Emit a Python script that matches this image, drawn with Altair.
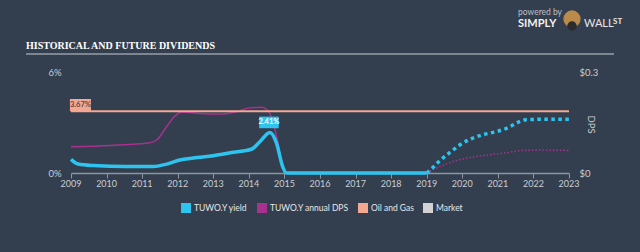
import altair as alt
import pandas as pd

# ---------------- data ----------------
hist_years = [2009.0, 2009.2, 2009.63, 2010.56, 2011.31, 2011.69, 2012.06, 2012.44, 2013.0,
              2013.56, 2014.07, 2014.31, 2014.59, 2014.78, 2014.95, 2015.06, 2016, 2017, 2018, 2019]
hist_yield = [0.81, 0.53, 0.44, 0.38, 0.38, 0.53, 0.77, 0.89, 1.03,
              1.23, 1.41, 1.86, 2.41, 1.76, 0.38, 0.0, 0.0, 0.0, 0.0, 0.0]

fc_years = [2019, 2019.13, 2019.39, 2019.67, 2019.97, 2020.28, 2020.63, 2020.96,
            2021.28, 2021.61, 2021.8, 2022.2, 2023]
fc_yield = [0.0, 0.24, 0.77, 1.25, 1.72, 2.06, 2.30, 2.46, 2.69, 3.05, 3.17, 3.19, 3.19]

dps_years = [2009.0, 2010.1, 2011.22, 2011.41, 2011.69, 2011.92, 2012.11, 2012.62, 2013.19,
             2013.65, 2014.03, 2014.36, 2014.54, 2014.68, 2014.8, 2014.92, 2015.05,
             2016, 2017, 2018, 2019]
dps_vals = [0.078, 0.082, 0.090, 0.098, 0.138, 0.169, 0.181, 0.177, 0.175,
            0.182, 0.194, 0.195, 0.185, 0.152, 0.098, 0.034, 0.0,
            0.0, 0.0, 0.0, 0.0]

dps_fc_years = [2019, 2019.37, 2019.74, 2020.12, 2020.68, 2021.24, 2021.71, 2022.18, 2023]
dps_fc_vals = [0.0, 0.019, 0.034, 0.044, 0.053, 0.060, 0.067, 0.068, 0.067]

industry_years = [2009, 2023]
industry_yield = [3.67, 3.67]

series_names = ["TUWO.Y yield", "TUWO.Y annual DPS", "Oil and Gas", "Market"]
series_colors = ["#2ec4f0", "#a8318f", "#f4a892", "#d2d2d2"]

year_ticks = list(range(2009, 2024))
year_labels = [str(y) for y in year_ticks]

# ---------------- styling ----------------
BG = "#333f4f"
FONT = "Lato"
CYAN, MAGENTA, SALMON = series_colors[0], series_colors[1], series_colors[2]

df_hist = pd.DataFrame({"year": hist_years, "pct": hist_yield})
df_fc = pd.DataFrame({"year": fc_years, "pct": fc_yield})
df_dps = pd.DataFrame({"year": dps_years, "dps": dps_vals})
df_dps_fc = pd.DataFrame({"year": dps_fc_years, "dps": dps_fc_vals})
df_ind = pd.DataFrame({"year": industry_years, "pct": industry_yield})
df_leg = pd.DataFrame({"series": series_names, "year": [2009] * 4, "pct": [-50] * 4})
df_ticks = pd.DataFrame({"year": year_ticks, "label": year_labels})

xscale = alt.Scale(domain=[2009, 2023], nice=False, zero=False)
xaxis = alt.Axis(values=year_ticks, title=None, grid=False, labels=False,
                 domainColor="#8c95a0", tickColor="#8c95a0", tickSize=5,
                 domainWidth=1.5)
X = alt.X("year:Q", scale=xscale, axis=xaxis)

left_axis = alt.Axis(values=[0, 6], labelExpr="datum.value + '%'", title=None, grid=False,
                     domain=False, ticks=False, tickSize=0, labelPadding=10,
                     labelColor="#c9cdd3", labelFontSize=9.5, labelFont=FONT, labelFlush=False)
Yl = alt.Y("pct:Q", scale=alt.Scale(domain=[0, 6], nice=False), axis=left_axis)

right_axis = alt.Axis(orient="right", values=[0, 0.3], labelExpr="'$' + datum.value",
                      title="DPS", titleAngle=90, titleX=21, titleY=52, titleAlign="center",
                      titleBaseline="middle", titleColor="#c9cdd3", titleFontSize=9.5,
                      titleFont=FONT, titleFontWeight="normal",
                      grid=False, domain=False, ticks=False, tickSize=0, labelPadding=10,
                      labelColor="#c9cdd3", labelFontSize=9.5, labelFont=FONT, labelFlush=False)
Yr = alt.Y("dps:Q", scale=alt.Scale(domain=[0, 0.3], nice=False), axis=right_axis)

# ---------------- left-axis layers ----------------
industry = alt.Chart(df_ind).mark_line(color=SALMON, strokeWidth=2).encode(x=X, y=Yl)
yield_hist = alt.Chart(df_hist).mark_line(color=CYAN, strokeWidth=3.5, interpolate="monotone").encode(x=X, y=Yl)
yield_fc = alt.Chart(df_fc).mark_line(color=CYAN, strokeWidth=3.5, strokeDash=[3.5, 3.5],
                                      interpolate="monotone").encode(x=X, y=Yl)

# year tick labels (placed through the x scale, just below the axis)
tick_labels = alt.Chart(df_ticks).mark_text(font=FONT, fontSize=9, color="#c9cdd3",
                                            baseline="top", align="center", dy=7).encode(
    x=X, y=alt.value(101), text="label:N")

box_df = pd.DataFrame({
    "x0": [2008.97, 2014.29], "x1": [2009.56, 2014.84],
    "y0": [3.67, 2.66], "y1": [4.40, 3.35],
    "label": ["3.67%", "2.41%"], "fill": [SALMON, CYAN], "tcol": ["#5a4d4f", "#ffffff"],
})
boxes = alt.Chart(box_df).mark_rect().encode(
    x=alt.X("x0:Q", scale=xscale, axis=xaxis), x2="x1", y="y0:Q", y2="y1",
    color=alt.Color("fill:N", scale=None))
box_text = alt.Chart(box_df).transform_calculate(
    xm="(datum.x0 + datum.x1) / 2", ym="(datum.y0 + datum.y1) / 2"
).mark_text(fontSize=7.5, font=FONT, fontWeight="bold", baseline="middle", align="center").encode(
    x=alt.X("xm:Q", scale=xscale, axis=xaxis), y="ym:Q", text="label:N",
    color=alt.Color("tcol:N", scale=None))

legend_layer = alt.Chart(df_leg).mark_square(size=100, opacity=1, clip=True).encode(
    x=X, y=Yl,
    color=alt.Color("series:N",
                    scale=alt.Scale(domain=series_names, range=series_colors),
                    legend=alt.Legend(orient="none", legendX=110, legendY=131, direction="horizontal",
                                      title=None, symbolType="square", symbolSize=100,
                                      symbolStrokeWidth=0, labelColor="#e4e7ea", labelFontSize=8.5,
                                      labelFont=FONT, columnPadding=9, labelOffset=3)))

one = pd.DataFrame({"a": [0]})
title_text = alt.Chart(one).mark_text(text="HISTORICAL AND FUTURE DIVIDENDS", align="left",
                                      baseline="alphabetic", font="Liberation Sans Narrow",
                                      fontWeight="bold", fontSize=10, color="#ffffff").encode(
    x=alt.value(-45), y=alt.value(-23))
title_rule = alt.Chart(one).mark_rule(color="#c9cdd3", strokeWidth=1).encode(
    x=alt.value(-45), x2=alt.value(543), y=alt.value(-18))
powered = alt.Chart(one).mark_text(text="powered by", align="left", baseline="alphabetic",
                                   font=FONT, fontSize=8.5, color="#b9bec5").encode(
    x=alt.value(447), y=alt.value(-57))
simply = alt.Chart(one).mark_text(text="SIMPLY", align="left", baseline="alphabetic",
                                  font=FONT, fontWeight="bold", fontSize=11, color="#f2f2f2").encode(
    x=alt.value(447), y=alt.value(-45))
logo = alt.Chart(one).mark_circle(size=300, color="#b98a4a", opacity=1).encode(
    x=alt.value(501), y=alt.value(-53))
logo2 = alt.Chart(one).mark_circle(size=90, color="#2c2c30", opacity=1).encode(
    x=alt.value(501), y=alt.value(-46))
wall = alt.Chart(one).mark_text(text="WALL", align="left", baseline="alphabetic",
                                font=FONT, fontSize=11, color="#e6e6e6").encode(
    x=alt.value(513), y=alt.value(-45))
st = alt.Chart(one).mark_text(text="ST", align="left", baseline="alphabetic",
                              font=FONT, fontWeight="bold", fontSize=8, color="#e6e6e6").encode(
    x=alt.value(542), y=alt.value(-48))

left = alt.layer(industry, yield_hist, yield_fc, tick_labels, boxes, box_text, legend_layer,
                 title_text, title_rule, powered, simply, logo, logo2, wall, st)

# ---------------- right-axis layers ----------------
dps_hist = alt.Chart(df_dps).mark_line(color=MAGENTA, strokeWidth=1.5, interpolate="monotone").encode(x=X, y=Yr)
dps_fc = alt.Chart(df_dps_fc).mark_line(color=MAGENTA, strokeWidth=1.5, strokeDash=[1.5, 2],
                                        interpolate="monotone").encode(x=X, y=Yr)
right = alt.layer(dps_hist, dps_fc)

chart = alt.layer(right, left).resolve_scale(y="independent").properties(
    width=498, height=101,
    autosize=alt.AutoSizeParams(type="none"),
    padding={"left": 71, "top": 72, "right": 71, "bottom": 79},
    background=BG,
).configure_view(stroke=None)

chart.save("out.html", embed_options={"renderer": "svg", "actions": False})
